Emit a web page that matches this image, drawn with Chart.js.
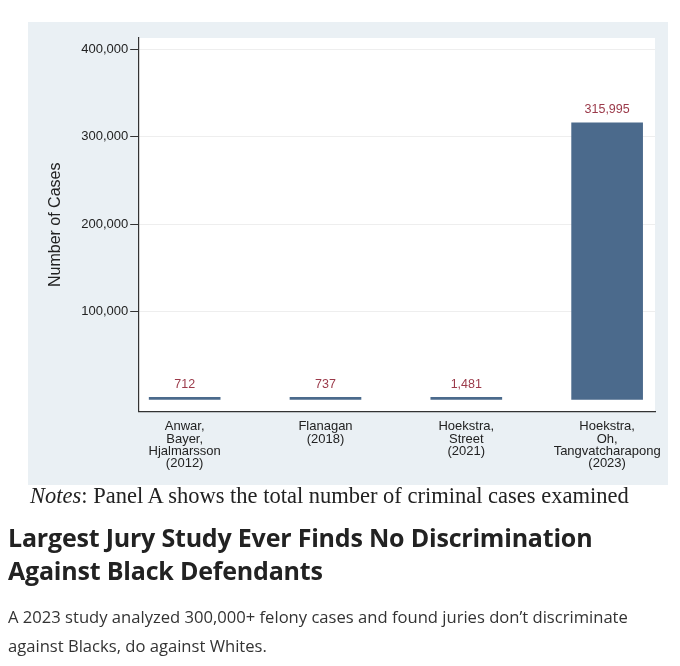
<!DOCTYPE html>
<html>
<head>
<meta charset="utf-8">
<script src="https://cdn.jsdelivr.net/npm/chart.js@4"></script>
<style>
  body { margin: 0; background: #fff; width: 680px; height: 666px; position: relative; overflow: hidden; }
  #panel { position: absolute; left: 28px; top: 22px; width: 640px; height: 463px; background: #eaf0f4; }
  #notes { position: absolute; left: 30px; top: 483px; font-family: "Liberation Serif", serif; font-size: 22.5px; color: #222; }
  #title { position: absolute; left: 8px; top: 521px; font-family: "Open Sans", sans-serif; font-weight: 700; font-size: 25px; line-height: 33px; color: #222; letter-spacing: -0.2px; }
  #desc { position: absolute; left: 8px; top: 602px; font-family: "Open Sans", sans-serif; font-size: 16.6px; line-height: 29px; color: #333; }
</style>
</head>
<body>
<div id="panel"><canvas id="jury" width="640" height="463"></canvas></div>
<div id="notes"><i>Notes</i>: Panel A shows the total number of criminal cases examined</div>
<div id="title">Largest Jury Study Ever Finds No Discrimination<br>Against Black Defendants</div>
<div id="desc">A 2023 study analyzed 300,000+ felony cases and found juries don’t discriminate<br>against Blacks, do against Whites.</div>
<script>
const studies = [
  ['Anwar,', 'Bayer,', 'Hjalmarsson', '(2012)'],
  ['Flanagan', '(2018)'],
  ['Hoekstra,', 'Street', '(2021)'],
  ['Hoekstra,', 'Oh,', 'Tangvatcharapong', '(2023)']
];
const cases = [712, 737, 1481, 315995];
const yTicks = [100000, 200000, 300000, 400000];

const fmt = v => v.toLocaleString('en-US');

// white plot region + value labels above bars
const plotBg = {
  id: 'plotBg',
  beforeDraw(chart) {
    const a = chart.chartArea, c = chart.ctx;
    c.save(); c.fillStyle = '#fff';
    c.fillRect(a.left, a.top, a.right - a.left, a.bottom - a.top);
    c.restore();
  }
};
const valueLabels = {
  id: 'valueLabels',
  afterDatasetsDraw(chart) {
    const c = chart.ctx;
    const y0 = chart.scales.y.getPixelForValue(0);
    c.save();
    c.fillStyle = '#9b3a4a';
    c.font = '12.5px "Liberation Sans", Arial, sans-serif';
    c.textAlign = 'center'; c.textBaseline = 'bottom';
    chart.getDatasetMeta(0).data.forEach((bar, i) => {
      c.fillText(fmt(cases[i]), bar.x, Math.min(bar.y, y0) - 7);
    });
    c.restore();
  }
};

new Chart(document.getElementById('jury'), {
  type: 'bar',
  data: {
    datasets: [{
      data: cases.map((v, i) => ({ x: i, y: v })),
      backgroundColor: '#4b6a8c',
      borderWidth: 0,
      barThickness: 71,
      minBarLength: 2
    }]
  },
  options: {
    responsive: false,
    animation: false,
    layout: { padding: { left: 14, right: 13, top: 16, bottom: 14 } },
    plugins: { legend: { display: false }, tooltip: { enabled: false } },
    scales: {
      x: {
        type: 'linear', min: -0.33, max: 3.34, offset: false,
        afterBuildTicks: s => { s.ticks = [0, 1, 2, 3].map(v => ({ value: v })); },
        grid: { display: false, offset: false, drawTicks: true, tickLength: 8, tickColor: '#333' },
        border: { color: '#333', width: 1.2 },
        ticks: {
          color: '#222', padding: 1, maxRotation: 0, autoSkip: false,
          font: { family: '"Liberation Sans", Arial, sans-serif', size: 13, lineHeight: 0.95 },
          callback: v => studies[v]
        }
      },
      y: {
        min: -14000, max: 413000,
        afterBuildTicks: s => { s.ticks = yTicks.map(v => ({ value: v })); },
        grid: { color: '#eeeeee', drawTicks: true, tickLength: 8, tickColor: '#333' },
        border: { color: '#333', width: 1.2 },
        title: { display: true, text: 'Number of Cases', color: '#222', padding: { bottom: 14 },
                 font: { family: '"Liberation Sans", Arial, sans-serif', size: 16 } },
        ticks: {
          color: '#222', padding: 2,
          font: { family: '"Liberation Sans", Arial, sans-serif', size: 13 },
          callback: v => fmt(v)
        }
      }
    }
  },
  plugins: [plotBg, valueLabels]
});
</script>
</body>
</html>
